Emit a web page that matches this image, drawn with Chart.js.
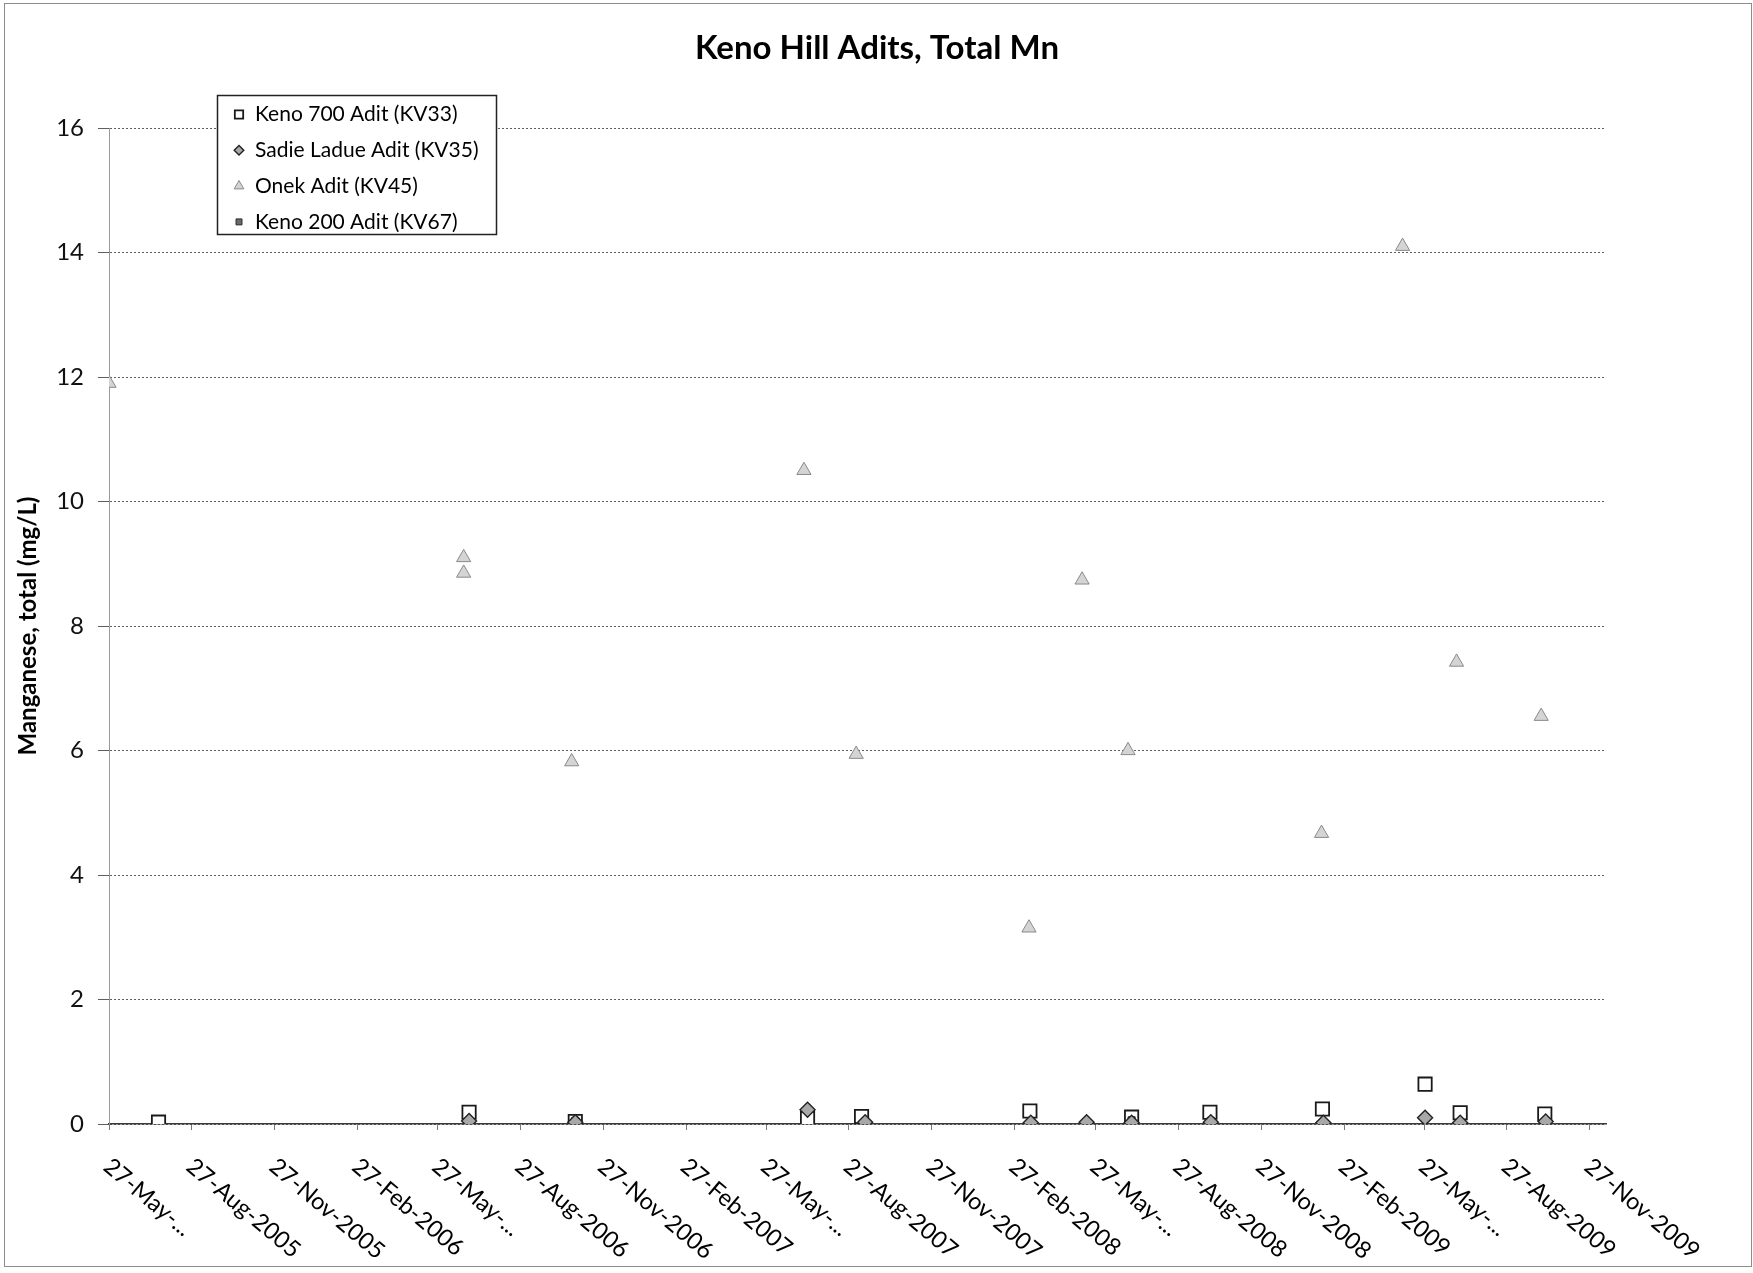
<!DOCTYPE html>
<html>
<head>
<meta charset="utf-8">
<title>Keno Hill Adits, Total Mn</title>
<script src="https://cdn.jsdelivr.net/npm/chart.js@4.4.1/dist/chart.umd.min.js"></script>
<style>
  html, body { margin: 0; padding: 0; background: #fff; }
  #wrap { width: 1753px; height: 1273px; }
</style>
</head>
<body>
<div id="wrap"><canvas id="chart" width="1753" height="1273"></canvas></div>
<script>
// x axis: quarterly date ticks, labels as printed (Excel truncated some)
const tickDates = ['2005-05-27','2005-08-27','2005-11-27','2006-02-27','2006-05-27','2006-08-27','2006-11-27',
  '2007-02-27','2007-05-27','2007-08-27','2007-11-27','2008-02-27','2008-05-27','2008-08-27','2008-11-27',
  '2009-02-27','2009-05-27','2009-08-27','2009-11-27'];
const tickLabels = ['27-May-...','27-Aug-2005','27-Nov-2005','27-Feb-2006','27-May-...','27-Aug-2006','27-Nov-2006',
  '27-Feb-2007','27-May-...','27-Aug-2007','27-Nov-2007','27-Feb-2008','27-May-...','27-Aug-2008','27-Nov-2008',
  '27-Feb-2009','27-May-...','27-Aug-2009','27-Nov-2009'];
const xStart = '2005-05-27';
const xEnd = '2009-12-15';
const yTicks = [0, 2, 4, 6, 8, 10, 12, 14, 16];

// Keno 700 Adit (KV33)
const keno700Dates = ['2005-07-21','2006-07-01','2006-10-27','2007-07-12','2007-09-10','2008-03-15',
  '2008-07-06','2008-10-01','2009-02-03','2009-05-28','2009-07-06','2009-10-08'];
const keno700Mn = [0.03, 0.19, 0.04, 0.09, 0.12, 0.21, 0.11, 0.19, 0.24, 0.64, 0.18, 0.16];

// Sadie Ladue Adit (KV35)
const sadieDates = ['2006-07-01','2006-10-27','2007-07-12','2007-09-14','2008-03-16','2008-05-17',
  '2008-07-06','2008-10-02','2009-02-04','2009-05-28','2009-07-06','2009-10-09'];
const sadieMn = [0.05, 0.03, 0.23, 0.03, 0.02, 0.03, 0.02, 0.03, 0.02, 0.10, 0.02, 0.04];

// Onek Adit (KV45)
const onekDates = ['2005-05-27','2006-06-25','2006-06-25','2006-10-23','2007-07-08','2007-09-04','2008-03-14',
  '2008-05-12','2008-07-02','2009-02-02','2009-05-03','2009-07-02','2009-10-04'];
const onekMn = [11.9, 9.1, 8.85, 5.82, 10.5, 5.94, 3.15, 8.74, 6.0, 4.67, 14.1, 7.42, 6.55];

// Keno 200 Adit (KV67)
const keno200Dates = ['2006-10-27','2008-07-06','2008-10-02'];
const keno200Mn = [0.05, 0.06, 0.05];

const DAY = 86400000;
function toDay(s) {
  const p = s.split('-');
  return Date.UTC(+p[0], +p[1] - 1, +p[2]) / DAY;
}
function pairs(dates, vals) {
  return dates.map((d, i) => ({ x: toDay(d), y: vals[i] }));
}

const FONT = 'Lato, "Open Sans", sans-serif';

// title, x labels, legend box and outer frame
const decor = {
  id: 'decor',
  afterDraw(chart) {
    const ctx = chart.ctx;
    const xs = chart.scales.x;
    ctx.save();

    ctx.strokeStyle = '#8c8c8c';
    ctx.lineWidth = 1;
    ctx.strokeRect(4.5, 3.5, 1747, 1263);

    ctx.fillStyle = '#000';
    ctx.font = 'bold 33px ' + FONT;
    ctx.textAlign = 'center';
    ctx.textBaseline = 'middle';
    ctx.fillText('Keno Hill Adits, Total Mn', 877, 48);

    // rotated date labels, reading down to the right
    ctx.font = '23.5px ' + FONT;
    ctx.textAlign = 'left';
    ctx.textBaseline = 'alphabetic';
    const ang = 40 * Math.PI / 180;
    tickDates.forEach((d, i) => {
      const x = xs.getPixelForValue(toDay(d));
      ctx.save();
      ctx.translate(x - 7, xs.top + 45);
      ctx.rotate(ang);
      ctx.fillText(tickLabels[i], 0, 0);
      ctx.restore();
    });

    // legend
    ctx.fillStyle = '#fff';
    ctx.fillRect(217.5, 95.5, 279, 139);
    ctx.strokeStyle = '#222';
    ctx.lineWidth = 1.5;
    ctx.strokeRect(217.5, 95.5, 279, 139);
    const legendRadius = [5.9, 4.8, 5.6, 4.2];
    chart.data.datasets.forEach((ds, i) => {
      const y = 114.5 + i * 35.8;
      ctx.fillStyle = ds.backgroundColor;
      ctx.strokeStyle = ds.borderColor;
      ctx.lineWidth = ds.borderWidth;
      Chart.helpers.drawPoint(ctx, {
        pointStyle: ds.pointStyle, rotation: 0, radius: legendRadius[i], borderWidth: ds.borderWidth
      }, 239, y);
      ctx.fillStyle = '#000';
      ctx.font = '21px ' + FONT;
      ctx.textBaseline = 'middle';
      ctx.fillText(ds.label, 255, y);
    });
    ctx.restore();
  }
};

const chart = new Chart(document.getElementById('chart'), {
  type: 'scatter',
  data: {
    datasets: [
      { label: 'Keno 700 Adit (KV33)', data: pairs(keno700Dates, keno700Mn), pointStyle: 'rect', pointRadius: 9.4,
        backgroundColor: '#ffffff', borderColor: '#1a1a1a', borderWidth: 1.8, order: 4 },
      { label: 'Sadie Ladue Adit (KV35)', data: pairs(sadieDates, sadieMn), pointStyle: 'rectRot', pointRadius: 7.5,
        backgroundColor: '#a8a8a8', borderColor: '#222222', borderWidth: 1.4, order: 1 },
      { label: 'Onek Adit (KV45)', data: pairs(onekDates, onekMn), pointStyle: 'triangle', pointRadius: 8.2,
        backgroundColor: '#d4d4d4', borderColor: '#8a8a8a', borderWidth: 1, order: 3 },
      { label: 'Keno 200 Adit (KV67)', data: pairs(keno200Dates, keno200Mn), pointStyle: 'rect', pointRadius: 5,
        backgroundColor: '#6a6a6a', borderColor: '#2a2a2a', borderWidth: 1, order: 2 }
    ]
  },
  options: {
    responsive: false,
    animation: false,
    devicePixelRatio: 1,
    layout: { padding: { left: 0, right: 147, top: 128, bottom: 0 } },
    plugins: {
      legend: { display: false },
      title: { display: false },
      tooltip: { enabled: false }
    },
    scales: {
      x: {
        type: 'linear',
        min: toDay(xStart),
        max: toDay(xEnd),
        afterBuildTicks: s => { s.ticks = tickDates.map(d => ({ value: toDay(d) })); },
        afterFit: s => { s.height = 1273 - 1124; },
        ticks: { display: false },
        grid: { drawOnChartArea: false, drawTicks: true, tickLength: 6, color: '#7a7a7a', lineWidth: 1 },
        border: { display: true, color: '#3a3a3a', width: 1.5 }
      },
      y: {
        min: 0,
        max: 16,
        afterBuildTicks: s => { s.ticks = yTicks.map(v => ({ value: v })); },
        afterFit: s => { s.width = 109; },
        ticks: { font: { family: FONT, size: 24 }, color: '#111', padding: 14 },
        grid: { color: '#5e5e5e', lineWidth: 1, tickLength: 11 },
        border: { color: '#9a9a9a', dash: [2, 2], width: 1 },
        title: {
          display: true, text: 'Manganese, total (mg/L)', color: '#000',
          font: { family: FONT, size: 24, weight: 'bold' }, padding: { top: 14, bottom: 0 }
        }
      }
    }
  },
  plugins: [decor]
});
</script>
</body>
</html>
